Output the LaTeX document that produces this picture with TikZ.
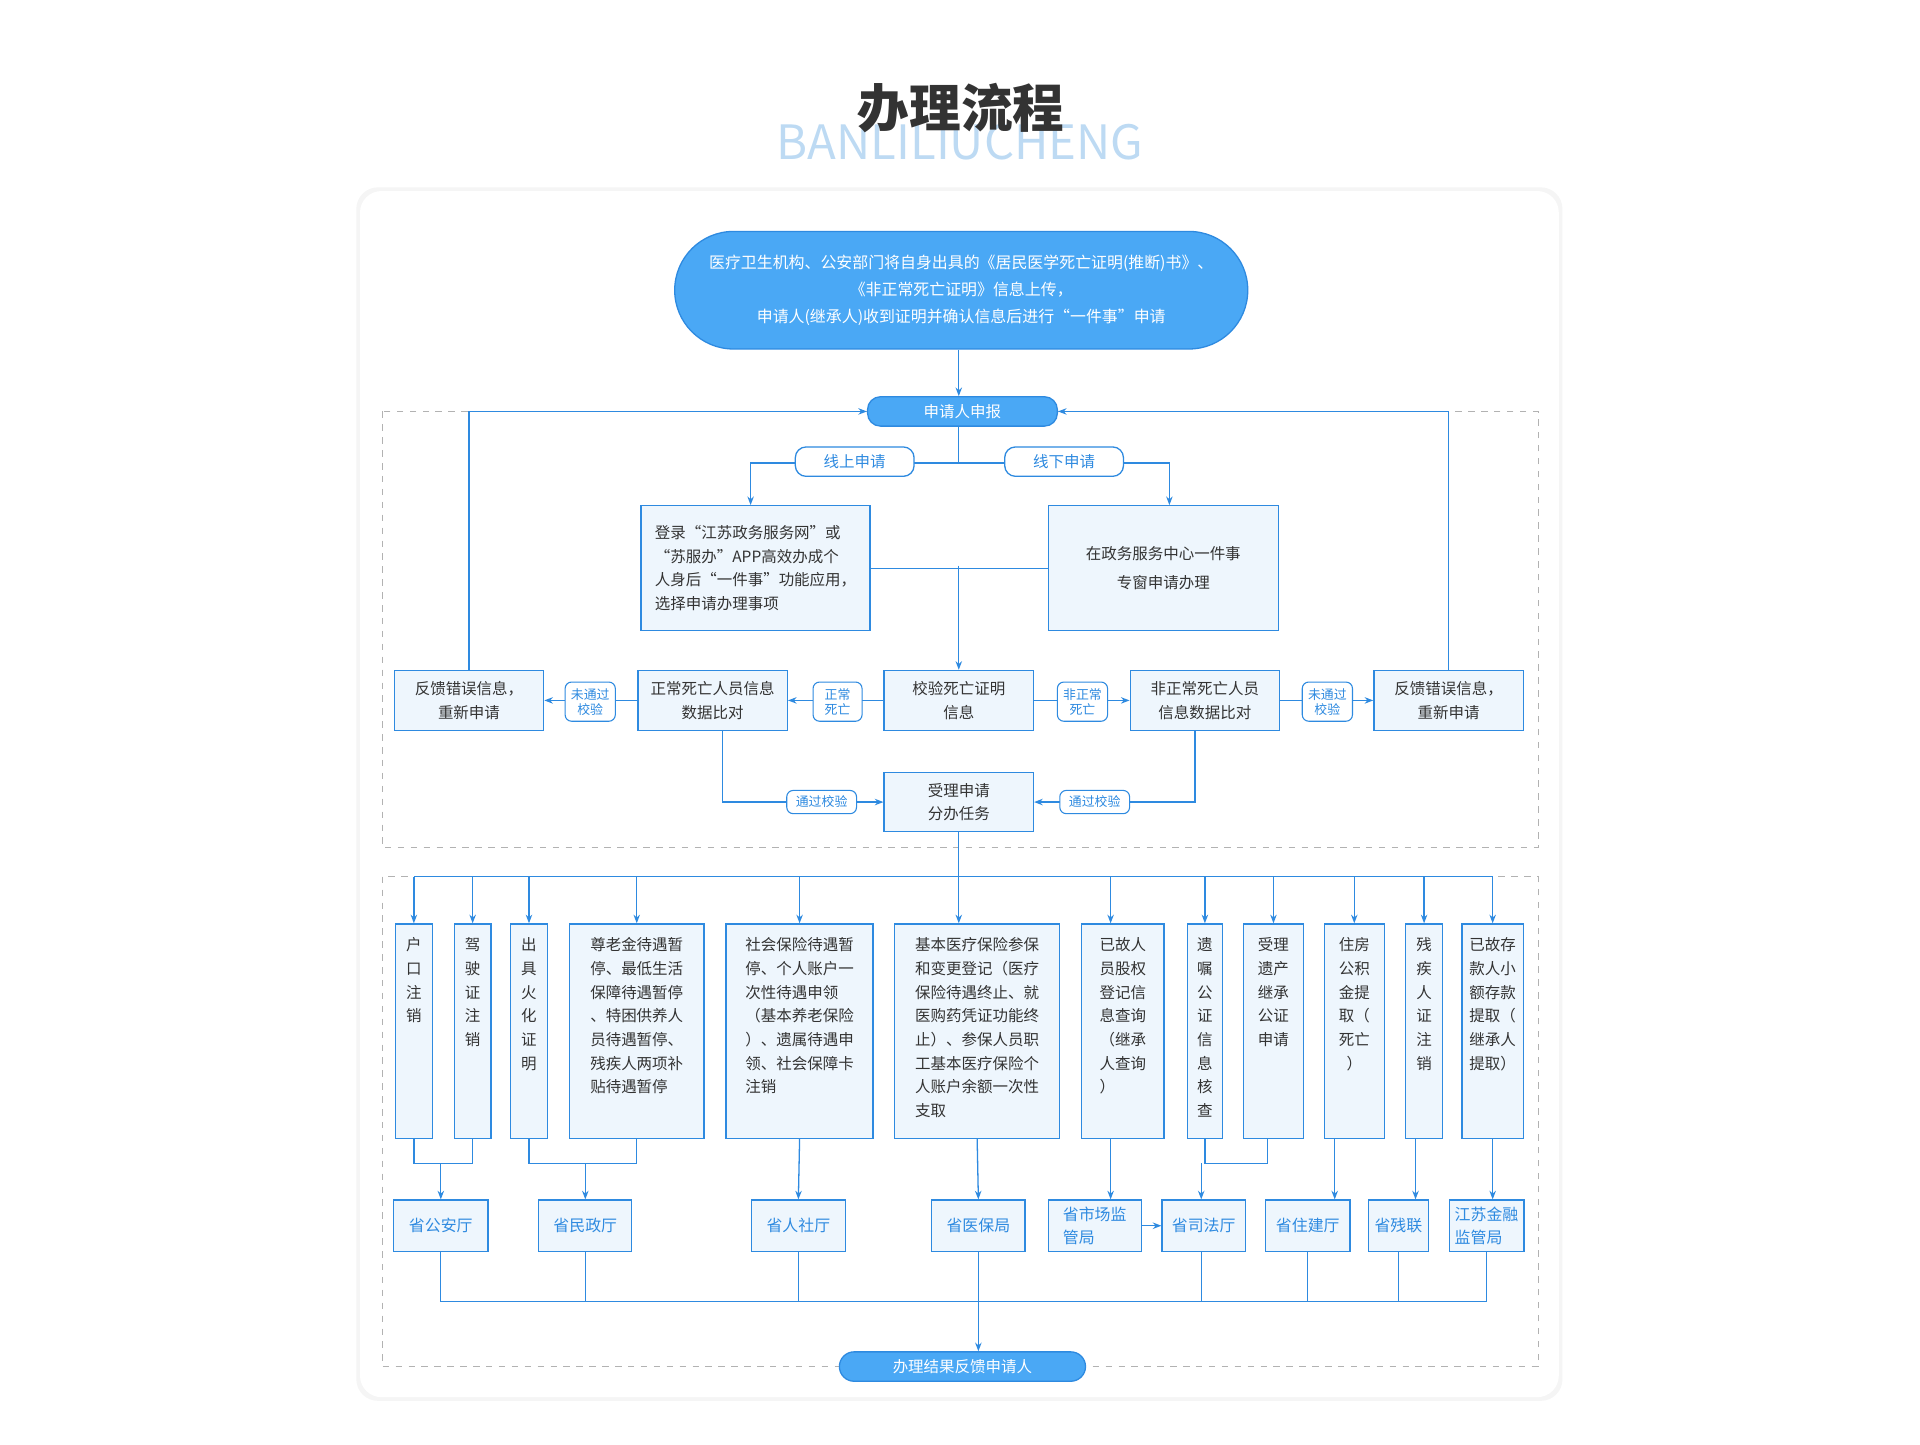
\documentclass[tikz,border=0pt]{standalone}
\usepackage{fontspec}
\setmainfont{Noto Sans CJK SC}
\usetikzlibrary{arrows.meta,positioning}
\definecolor{lineblue}{HTML}{2E8AE0}
\definecolor{boxfill}{HTML}{EEF6FD}
\definecolor{pillfill}{HTML}{4AA8F5}
\definecolor{subblue}{HTML}{BDDAF3}
\tikzset{
  sz/.style 2 args={minimum width=#1*0.02cm,minimum height=#2*0.02cm},
  box/.style={draw=lineblue,fill=boxfill,line width=0.6pt,inner sep=1pt,font=\fontsize{7.2}{11}\selectfont,text=black!80,align=center},
  col/.style={box,anchor=north},
  coltext/.style={inner sep=0pt,font=\fontsize{7.2}{11}\selectfont,text=black!80,anchor=north},
  pill/.style={draw=lineblue,fill=pillfill,rounded corners=6pt,line width=0.6pt,text=white,font=\fontsize{7.2}{9}\selectfont},
  tag/.style={draw=lineblue,fill=white,rounded corners=5pt,line width=0.6pt,text=lineblue,font=\fontsize{7.2}{9}\selectfont},
  stag/.style={draw=lineblue,fill=white,rounded corners=3pt,line width=0.5pt,text=lineblue,inner sep=1pt,align=center,font=\fontsize{6}{7}\selectfont},
  agency/.style={box,text=lineblue,font=\fontsize{7.4}{11}\selectfont},
  line/.style={draw=lineblue,line width=0.6pt},
  arr/.style={line,-{Stealth[length=4pt,width=3pt]}},
  frame/.style={draw=black!30,dashed,line width=0.4pt}
}
\begin{document}
\begin{tikzpicture}[x=0.02cm,y=-0.02cm]
\useasboundingbox (0,0) rectangle (1568,1180);
% heading
\node[text=subblue,font=\fontsize{22}{24}\selectfont] (sub) at (784,116) {BANLILIUCHENG};
\node[text=black!80,font=\fontsize{24}{26}\selectfont\bfseries] (title) at (785,88) {办理流程};
\fill[black!4,rounded corners=10pt] (291,153) rectangle (1276,1144);
\fill[white,rounded corners=10pt] (294,156) rectangle (1273,1141);
\draw[frame] (312,336) rectangle (1256,692);
\draw[frame] (312,716) rectangle (1256,1116);

% top part
\node[pill,sz={468}{96},rounded corners=48*0.02cm,align=center,font=\fontsize{7.4}{12.5}\selectfont] (start) at (785,237)
  {医疗卫生机构、公安部门将自身出具的《居民医学死亡证明(推断)书》、\\《非正常死亡证明》信息上传，\\申请人(继承人)收到证明并确认信息后进行“一件事”申请};
\node[pill,sz={155}{24}] (apply) at (786,336) {申请人申报};
\draw[arr] (start.south -| 783,0) -- (apply.north -| 783,0);
\node[box,sz={187}{102},align=left] (online) at (617,464)
  {登录“江苏政务服务网”或\\“苏服办”APP高效办成个\\人身后“一件事”功能应用，\\选择申请办理事项};
\node[box,sz={188}{102},font=\fontsize{7.2}{13.5}\selectfont] (offline) at (950,464) {在政务服务中心一件事\\专窗申请办理};
\draw[line] (apply.south -| 783,0) -- (783,378);
\draw[arr] (783,378) -- (613,378) -- (online.north -| 613,0);
\draw[arr] (783,378) -- (955,378) -- (offline.north -| 955,0);
\node[tag,sz={97}{24}] (tonl) at (698,377) {线上申请};
\node[tag,sz={97}{24}] (toff) at (869,377) {线下申请};
\draw[line] (online.east) -- (offline.west);

% check row
\node[box,sz={122}{49}] (check) at (783,572) {校验死亡证明\\信息};
\draw[arr] (783,462) -- (check.north);
\node[box,sz={122}{49}] (normal) at (582,572) {正常死亡人员信息\\数据比对};
\node[box,sz={122}{49}] (abnormal) at (984,572) {非正常死亡人员\\信息数据比对};
\node[box,sz={122}{49}] (backL) at (383,572) {反馈错误信息，\\重新申请};
\node[box,sz={122}{49}] (backR) at (1183,572) {反馈错误信息，\\重新申请};
\draw[arr] (check) -- (normal);
\draw[arr] (check) -- (abnormal);
\draw[arr] (normal) -- (backL);
\draw[arr] (abnormal) -- (backR);
\node[stag,sz={40}{32}] (tnorm) at (684,573) {正常\\死亡};
\node[stag,sz={41}{32}] (tabn) at (884,573) {非正常\\死亡};
\node[stag,sz={41}{32}] (tfailL) at (482,573) {未通过\\校验};
\node[stag,sz={41}{32}] (tfailR) at (1084,573) {未通过\\校验};
\draw[arr] (backL.north) -- (383,336) -- (apply.west);
\draw[arr] (backR.north) -- (1183,336) -- (apply.east);
\node[box,sz={122}{48}] (accept) at (783,655) {受理申请\\分办任务};
\draw[arr] (normal.south -| 590,0) -- (590,655) -- (accept.west);
\draw[arr] (abnormal.south -| 976,0) -- (976,655) -- (accept.east);
\node[stag,sz={57}{19}] (tpassL) at (671,655) {通过校验};
\node[stag,sz={57}{19}] (tpassR) at (894,655) {通过校验};

% matters
\node[col,sz={30}{175}] (m1) at (338,754) {};
\node[col,sz={30}{175}] (m2) at (386,754) {};
\node[col,sz={30}{175}] (m3) at (432,754) {};
\node[col,sz={110}{175}] (m4) at (520,754) {};
\node[col,sz={120}{175}] (m5) at (653,754) {};
\node[col,sz={135}{175}] (m6) at (798,754) {};
\node[col,sz={67}{175}] (m7) at (917,754) {};
\node[col,sz={29}{175}] (m8) at (984,754) {};
\node[col,sz={49}{175}] (m9) at (1040,754) {};
\node[col,sz={49}{175}] (m10) at (1106,754) {};
\node[col,sz={30}{175}] (m11) at (1163,754) {};
\node[col,sz={50}{175}] (m12) at (1219,754) {};
\node[coltext,align=center,below=0.23cm of m1.north] (t1) {户\\口\\注\\销};
\node[coltext,align=center,below=0.23cm of m2.north] (t2) {驾\\驶\\证\\注\\销};
\node[coltext,align=center,below=0.23cm of m3.north] (t3) {出\\具\\火\\化\\证\\明};
\node[coltext,align=left,below=0.23cm of m4.north] (t4) {尊老金待遇暂\\停、最低生活\\保障待遇暂停\\、特困供养人\\员待遇暂停、\\残疾人两项补\\贴待遇暂停};
\node[coltext,align=left,below=0.23cm of m5.north] (t5) {社会保险待遇暂\\停、个人账户一\\次性待遇申领\\（基本养老保险\\）、遗属待遇申\\领、社会保障卡\\注销};
\node[coltext,align=left,below=0.23cm of m6.north] (t6) {基本医疗保险参保\\和变更登记（医疗\\保险待遇终止、就\\医购药凭证功能终\\止）、参保人员职\\工基本医疗保险个\\人账户余额一次性\\支取};
\node[coltext,align=left,below=0.23cm of m7.north] (t7) {已故人\\员股权\\登记信\\息查询\\（继承\\人查询\\）};
\node[coltext,align=center,below=0.23cm of m8.north] (t8) {遗\\嘱\\公\\证\\信\\息\\核\\查};
\node[coltext,align=center,below=0.23cm of m9.north] (t9) {受理\\遗产\\继承\\公证\\申请};
\node[coltext,align=center,below=0.23cm of m10.north] (t10) {住房\\公积\\金提\\取（\\死亡\\）};
\node[coltext,align=center,below=0.23cm of m11.north] (t11) {残\\疾\\人\\证\\注\\销};
\node[coltext,align=left,below=0.23cm of m12.north] (t12) {已故存\\款人小\\额存款\\提取（\\继承人\\提取）};
\draw[line] (accept.south) -- (783,716);
\draw[line] (338,716) -- (1219,716);
\foreach \m/\x in {m1/338,m2/386,m3/432,m4/520,m5/653,m6/783,m7/907,m8/984,m9/1040,m10/1106,m11/1163,m12/1219}
  \draw[arr] (\x,716) -- (\m.north -| \x,0);

% agencies
\node[agency,sz={77}{42}] (gongan) at (360,1001) {省公安厅};
\node[agency,sz={76}{42}] (minzheng) at (478,1001) {省民政厅};
\node[agency,sz={77}{42}] (renshe) at (652,1001) {省人社厅};
\node[agency,sz={76}{42}] (yibao) at (799,1001) {省医保局};
\node[agency,sz={76}{42},align=left] (shichang) at (894,1001) {省市场监\\管局};
\node[agency,sz={68}{42}] (sifa) at (983,1001) {省司法厅};
\node[agency,sz={69}{42}] (zhujian) at (1068,1001) {省住建厅};
\node[agency,sz={49}{42}] (canlian) at (1142,1001) {省残联};
\node[agency,sz={61}{42},align=left] (jinrong) at (1214,1001) {江苏金融\\监管局};
\draw[line] (m1.south) -- (338,950) -- (386,950) -- (m2.south);
\draw[arr] (360,950) -- (gongan.north);
\draw[line] (m3.south) -- (432,950) -- (520,950) -- (m4.south);
\draw[arr] (478,950) -- (minzheng.north);
\draw[arr] (m5.south) -- (renshe.north);
\draw[arr] (m6.south) -- (yibao.north);
\draw[arr] (m7.south -| 907,0) -- (shichang.north -| 907,0);
\draw[arr] (shichang) -- (sifa);
\draw[line] (m8.south) -- (984,950) -- (1035,950) -- (m9.south -| 1035,0);
\draw[arr] (981,950) -- (sifa.north -| 981,0);
\draw[arr] (m10.south -| 1090,0) -- (zhujian.north -| 1090,0);
\draw[arr] (m11.south -| 1156,0) -- (canlian.north -| 1156,0);
\draw[arr] (m12.south) -- (jinrong.north -| 1219,0);

% result
\node[pill,sz={201}{24},rounded corners=12*0.02cm] (result) at (786,1116) {办理结果反馈申请人};
\foreach \g/\x in {gongan/360,minzheng/478,renshe/652,sifa/981,zhujian/1068,canlian/1142,jinrong/1214}
  \draw[line] (\g.south -| \x,0) -- (\x,1063);
\draw[line] (360,1063) -- (1214,1063);
\draw[arr] (yibao.south) -- (result.north -| 799,0);
\end{tikzpicture}
\end{document}
